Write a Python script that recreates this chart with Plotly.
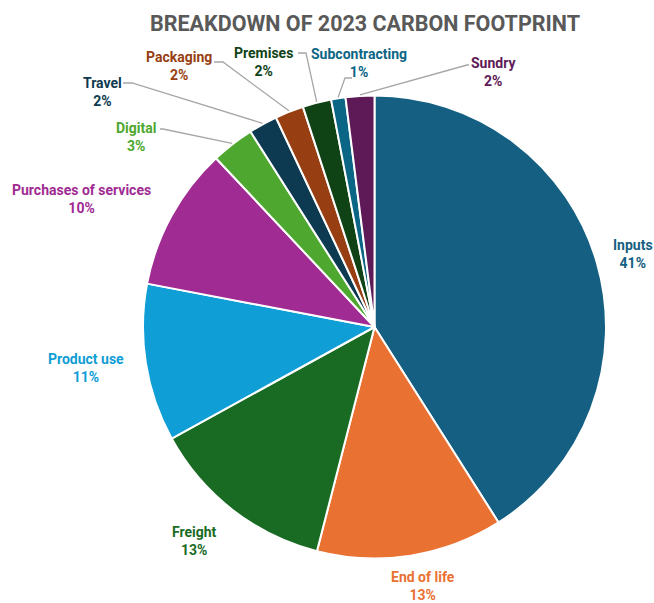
import math
import plotly.graph_objects as go

# ---- data ----
categories = ["Inputs", "End of life", "Freight", "Product use", "Purchases of services",
              "Digital", "Travel", "Packaging", "Premises", "Subcontracting", "Sundry"]
values = [41, 13, 13, 11, 10, 3, 2, 2, 2, 1, 2]
title_text = "BREAKDOWN OF 2023 CARBON FOOTPRINT"

# ---- style ----
colors = ["#156082", "#E97132", "#196B24", "#0F9ED5", "#A02B93",
          "#4EA72E", "#0D3A50", "#973F12", "#0F4316", "#0B6585", "#5E1A57"]
W, H = 654, 603
CX, CY, R = 374.5, 327.0, 231.5
FONT = "Liberation Sans Narrow, Arial Narrow, Roboto, sans-serif"

# label centres (pixels) and optional leader elbow points / label attach points
label_pos = {
    "Inputs": (633, 254), "End of life": (423, 586), "Freight": (194, 541),
    "Product use": (86, 368), "Purchases of services": (81, 199),
    "Digital": (136, 137), "Travel": (102, 92), "Packaging": (179, 66),
    "Premises": (263, 62), "Subcontracting": (359, 63), "Sundry": (493, 72),
}
leaders = {  # elbow, attach
    "Digital": ((163, 129), (160, 129)),
    "Travel": ((132, 83), (123, 83)),
    "Packaging": ((223, 62), (214, 62)),
    "Premises": ((306, 53), (298, 53)),
    "Subcontracting": ((345, 78), (352, 78)),
    "Sundry": ((467, 65), (469, 65)),
}

def px(x):
    return x / W

def py(y):
    return 1 - y / H

fig = go.Figure(go.Pie(
    labels=categories, values=values, sort=False, direction="clockwise", rotation=0,
    marker=dict(colors=colors, line=dict(color="white", width=2)),
    textinfo="none", hoverinfo="label+percent", showlegend=False,
    domain=dict(x=[px(CX - R), px(CX + R)], y=[py(CY + R), py(CY - R)]),
))

total = sum(values)
cum = 0
annotations = []
shapes = []
for cat, v, col in zip(categories, values, colors):
    mid = (cum + v / 2) / total * 2 * math.pi
    cum += v
    pct = round(v / total * 100)
    lx, ly = label_pos[cat]
    annotations.append(dict(
        x=px(lx), y=py(ly), xref="paper", yref="paper", showarrow=False,
        text=f"<b>{cat}</b><br><b>{pct}%</b>", align="center",
        font=dict(family=FONT, size=14, color=col), xanchor="center", yanchor="middle",
    ))
    if cat in leaders:
        (ex, ey), (ax, ay) = leaders[cat]
        sx = CX + (R + 1) * math.sin(mid)
        sy = CY - (R + 1) * math.cos(mid)
        shapes.append(dict(
            type="path", xref="paper", yref="paper",
            path=f"M {px(sx)} {py(sy)} L {px(ex)} {py(ey)} L {px(ax)} {py(ay)}",
            line=dict(color="#A6A6A6", width=1.3),
        ))

annotations.append(dict(
    x=px(365), y=py(23), xref="paper", yref="paper", showarrow=False,
    text=f"<b>{title_text}</b>", font=dict(family=FONT, size=21.5, color="#595959"),
    xanchor="center", yanchor="middle",
))

fig.update_layout(
    width=W, height=H, margin=dict(l=0, r=0, t=0, b=0),
    paper_bgcolor="white", plot_bgcolor="white",
    annotations=annotations, shapes=shapes,
)
fig.write_html("out.html")
